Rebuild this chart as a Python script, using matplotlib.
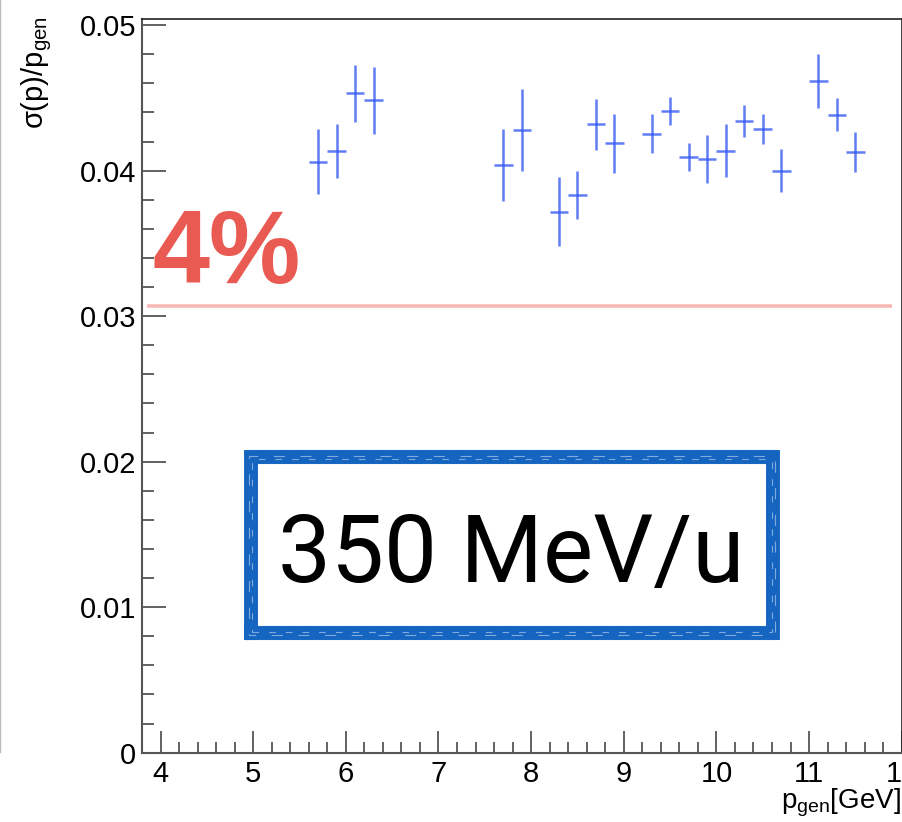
import matplotlib
matplotlib.use("Agg")
import matplotlib.pyplot as plt
from matplotlib.lines import Line2D
from matplotlib.ticker import MultipleLocator

plt.rcParams['font.family'] = ['Liberation Sans', 'DejaVu Sans']
plt.rcParams['mathtext.fontset'] = 'custom'
plt.rcParams['mathtext.rm'] = 'Liberation Sans'
plt.rcParams['mathtext.it'] = 'Liberation Sans'

# ---- data ----
p_gen = [5.7, 5.9, 6.1, 6.3, 7.7, 7.9, 8.3, 8.5, 8.7, 8.9, 9.3, 9.5, 9.7,
         9.9, 10.1, 10.3, 10.5, 10.7, 11.1, 11.3, 11.5]
resolution = [0.04062, 0.04137, 0.04532, 0.04484, 0.04037, 0.04278, 0.03718,
              0.03831, 0.04319, 0.04188, 0.04254, 0.04410, 0.04092, 0.04080,
              0.04137, 0.04344, 0.04289, 0.04000, 0.04616, 0.04385, 0.04131]
res_err = [0.00223, 0.00186, 0.00196, 0.00229, 0.00246, 0.00280, 0.00238,
           0.00166, 0.00174, 0.00204, 0.00133, 0.00097, 0.00097, 0.00164,
           0.00181, 0.00110, 0.00103, 0.00149, 0.00188, 0.00111, 0.00137]
bin_half_width = 0.1

ref_level = 0.0307
ref_x = [3.85, 11.9]
ref_label = "4%"
energy_label = "350 MeV/u"
box_x = [4.975, 10.615]
box_y = [0.0082, 0.0203]

W, H = 903, 822
fig = plt.figure(figsize=(W / 100, H / 100), dpi=100)
ax = fig.add_axes([142 / W, 1 - 752.7 / H, (901.7 - 142) / W, (752.7 - 19.3) / H])
ax.set_xlim(3.8, 12.0)
ax.set_ylim(0, 0.0504)

# error bars
ax.errorbar(p_gen, resolution, yerr=res_err, xerr=bin_half_width, fmt='none',
            ecolor='#3358f2', elinewidth=1.8, alpha=0.78, capsize=0, zorder=3)

# reference line
ax.plot(ref_x, [ref_level, ref_level], color='#f6bab6', lw=2.6,
        solid_capstyle='butt', zorder=2)
ax.text(3.91, 0.0323, ref_label, color='#e95a52', fontsize=74,
        fontweight='bold', ha='left', va='baseline', zorder=4)

# sketchy blue box
bx = [box_x[0], box_x[1], box_x[1], box_x[0], box_x[0]]
by = [box_y[0], box_y[0], box_y[1], box_y[1], box_y[0]]
ax.plot(bx, by, color='#1565c0', lw=10, solid_joinstyle='miter', zorder=4)
for dx, dy, a in [(0.035, 0.00035, 0.6), (-0.035, -0.00035, 0.6)]:
    bxx = [box_x[0] + dx, box_x[1] - dx, box_x[1] - dx, box_x[0] + dx, box_x[0] + dx]
    byy = [box_y[0] + dy, box_y[0] + dy, box_y[1] - dy, box_y[1] - dy, box_y[0] + dy]
    ax.plot(bxx, byy, color='#1565c0', lw=3, alpha=a, zorder=4)
# light streaks for a hand-drawn texture
for dx, dy, ls in [(0.012, 0.0001, (0, (6, 9))), (-0.015, -0.00012, (4, (10, 14)))]:
    bxx = [box_x[0] + dx, box_x[1] - dx, box_x[1] - dx, box_x[0] + dx, box_x[0] + dx]
    byy = [box_y[0] + dy, box_y[0] + dy, box_y[1] - dy, box_y[1] - dy, box_y[0] + dy]
    ax.plot(bxx, byy, color='white', lw=0.8, alpha=0.45, linestyle=ls, zorder=4.5)
ax.text(7.79, 0.0117, energy_label, fontsize=68,
        family=['Roboto', 'Liberation Sans'], fontweight='normal',
        ha='center', va='baseline', color='black', zorder=5)

# axes styling (ROOT-like)
ax.xaxis.set_major_locator(MultipleLocator(1))
ax.xaxis.set_minor_locator(MultipleLocator(0.2))
ax.yaxis.set_major_locator(MultipleLocator(0.01))
ax.yaxis.set_minor_locator(MultipleLocator(0.002))
ax.yaxis.set_major_formatter(plt.FuncFormatter(lambda v, p: '0' if abs(v) < 1e-9 else f'{v:.2f}'))
ax.tick_params(axis='both', which='both', direction='in', color='#555555', width=1.3,
               top=False, right=False, labelsize=21)
ax.tick_params(axis='x', which='major', length=16, pad=5)
ax.tick_params(axis='x', which='minor', length=8)
ax.tick_params(axis='y', which='major', length=17, pad=4)
ax.tick_params(axis='y', which='minor', length=8.5)
for s in ['left', 'bottom']:
    ax.spines[s].set_color('#555555')
    ax.spines[s].set_linewidth(1.5)
for s in ['top', 'right']:
    ax.spines[s].set_color('#222222')
    ax.spines[s].set_linewidth(1.2)

fig.text(37 / W, 1 - 16 / H, r'σ(p)/p$_{\mathrm{gen}}$', rotation=90, fontsize=21,
         ha='center', va='top')
fig.text(901 / W, 1 - 808 / H, r'p$_{\mathrm{gen}}$[GeV]', fontsize=20,
         ha='right', va='baseline')

fig.add_artist(Line2D([0.5 / W, 0.5 / W], [1 - 752 / H, 1.0], color='#bbbbbb', lw=1))

fig.savefig('out.png', dpi=100)
